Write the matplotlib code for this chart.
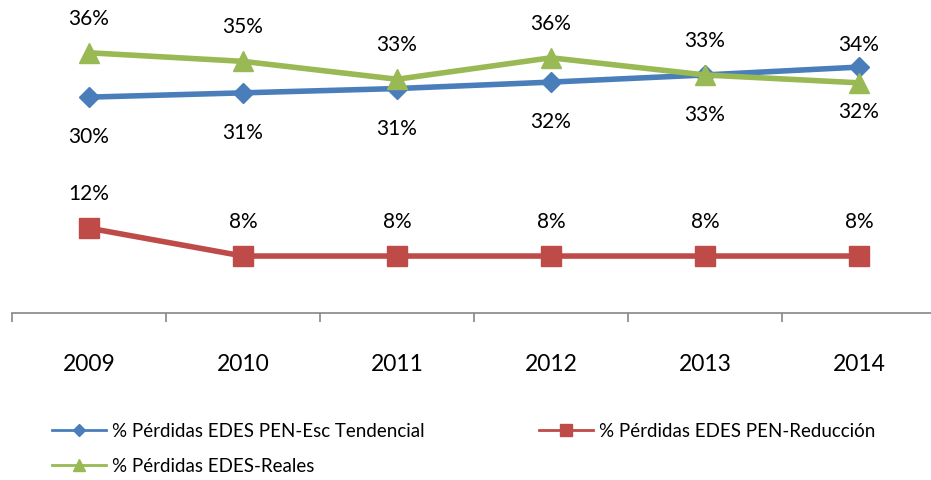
import matplotlib
matplotlib.use("Agg")
from matplotlib import pyplot as plt
from matplotlib.lines import Line2D

years = ["2009", "2010", "2011", "2012", "2013", "2014"]
tendencial = [30.2, 30.8, 31.4, 32.3, 33.3, 34.4]
reduccion = [11.9, 8.0, 8.0, 8.0, 8.0, 8.0]
reales = [36.4, 35.2, 32.7, 35.7, 33.3, 32.2]
names = [
    "% Pérdidas EDES PEN-Esc Tendencial",
    "% Pérdidas EDES PEN-Reducción",
    "% Pérdidas EDES-Reales",
]

plt.rcParams["font.family"] = ["Lato", "DejaVu Sans"]

fig = plt.figure(figsize=(9.31, 4.8), dpi=100)
ax = fig.add_axes([12 / 931, 1 - 313.3 / 480, 924 / 931, 286.3 / 480])

x = list(range(len(years)))
blue, red, green = "#4A7EBB", "#BE4B48", "#98B954"

ax.plot(x, tendencial, color=blue, lw=4, marker="D", ms=10, clip_on=False)
ax.plot(x, reduccion, color=red, lw=4, marker="s", ms=14, clip_on=False)
ax.plot(x, reales, color=green, lw=4, marker="^", ms=14, clip_on=False)

# data labels, pixel offsets from the point
for i, v in enumerate(tendencial):
    dy = 22 if i == len(x) - 1 else -40
    ax.annotate(f"{v:.0f}%", (i, v), xytext=(0, dy), textcoords="offset pixels",
                ha="center", va="center", fontsize=15)
for i, v in enumerate(reduccion):
    ax.annotate(f"{v:.0f}%", (i, v), xytext=(0, 34), textcoords="offset pixels",
                ha="center", va="center", fontsize=15)
for i, v in enumerate(reales):
    dy = -29 if i == len(x) - 1 else 34
    ax.annotate(f"{v:.0f}%", (i, v), xytext=(0, dy), textcoords="offset pixels",
                ha="center", va="center", fontsize=15)

ax.set_xlim(-0.5, len(x) - 0.5)
ax.set_ylim(0, 40)
ax.set_yticks([])
for s in ["left", "right", "top"]:
    ax.spines[s].set_visible(False)
ax.spines["bottom"].set_color("#868686")
ax.spines["bottom"].set_linewidth(1.2)
ax.set_xticks(x)
ax.set_xticklabels(years, fontsize=16.5)
ax.tick_params(axis="x", which="major", length=0, pad=29)
ax.set_xticks([i - 0.5 for i in range(len(x) + 1)], minor=True)
ax.tick_params(axis="x", which="minor", length=6.5, width=1.2, color="#868686", direction="out")

# legend handles drawn thinner than the plotted lines
h1 = Line2D([], [], color=blue, lw=2, marker="D", ms=6)
h2 = Line2D([], [], color=red, lw=2, marker="s", ms=8)
h3 = Line2D([], [], color=green, lw=2, marker="^", ms=8)
fig.legend([h1, h3, h2], [names[0], names[2], names[1]], ncol=2, frameon=False,
           loc="upper left", bbox_to_anchor=(52 / 931, 1 - 423 / 480),
           borderaxespad=0, borderpad=0, fontsize=13.5,
           handlelength=2.9, handletextpad=0.3, labelspacing=0.95, columnspacing=6.1)

fig.savefig("out.png", dpi=100)
